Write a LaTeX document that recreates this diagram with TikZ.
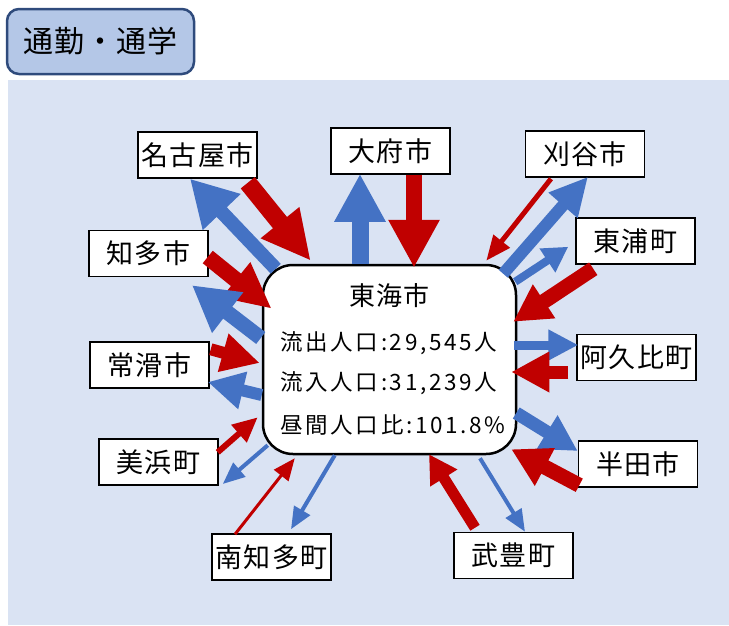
\documentclass[tikz,border=0pt]{standalone}
\usepackage{fontspec}
\setmainfont{Noto Sans CJK JP}
\newfontfamily\statfont[LetterSpace=12]{Noto Sans CJK JP}
\newfontfamily\cityfont[LetterSpace=4]{Noto Sans CJK JP}
\usetikzlibrary{arrows.meta}
\definecolor{flowblue}{HTML}{4472C4}
\definecolor{flowred}{HTML}{C00000}
\definecolor{panelbg}{HTML}{DAE3F3}
\definecolor{titlefill}{HTML}{B4C7E7}
\definecolor{titleline}{HTML}{2F4B7C}

\begin{document}
\begin{tikzpicture}[x=1pt, y=-1pt]
      \tikzset{
  city/.style={
    rectangle, draw, line width=1.5pt, fill=white,
    minimum width=119pt, minimum height=46pt, inner sep=0pt,
    font=\cityfont\fontsize{27}{27}\selectfont
  },
  hub/.style={
    rectangle, rounded corners=30pt, draw, line width=2.5pt, fill=white,
    minimum width=253pt, minimum height=189pt
  },
  hubname/.style={inner sep=0pt, font=\cityfont\fontsize{26}{26}\selectfont},
  stat/.style={anchor=west, inner sep=0pt, font=\statfont\fontsize{22.5}{22.5}\selectfont},
  titlebox/.style={
    rectangle, rounded corners=12pt, draw=titleline, line width=2.5pt,
    fill=titlefill, minimum width=187pt, minimum height=65pt,
    font=\cityfont\fontsize{30}{30}\selectfont
  },
  outflow/.style n args={3}{draw=flowblue, line width=#1, -{Triangle[length=#3, width=#2]}},
  inflow/.style n args={3}{draw=flowred, line width=#1, -{Triangle[length=#3, width=#2]}},
}

\useasboundingbox (0,0) rectangle (729,625);
\fill[panelbg] (8,80) rectangle (729,625);

%% ---- TITLE ----
\node[titlebox] (title) at (100.5,41.5) {通勤・通学};

%% ---- CENTER ----
\node[hub] (tokai) at (389.5,359.5) {};
\node[hubname] (tokainame) at (389.5,296) {東海市};
\node[stat] (outpop) at (280,343) {流出人口:29,545人};
\node[stat] (inpop)  at (280,383) {流入人口:31,239人};
\node[stat] (ratio)  at (280,425) {昼間人口比:101.8\%};

%% ---- CITIES ----
\node[city] (nagoya)      at (197.5,155) {名古屋市};
\node[city] (oobu)        at (390.5,151) {大府市};
\node[city] (kariya)      at (585,154)   {刈谷市};
\node[city] (higashiura)  at (635.5,241) {東浦町};
\node[city] (chita)       at (148.5,253.5) {知多市};
\node[city] (tokoname)    at (149.5,365) {常滑市};
\node[city] (agui)        at (636.5,357.5) {阿久比町};
\node[city] (mihama)      at (158.5,462) {美浜町};
\node[city] (handa)       at (638,464)   {半田市};
\node[city] (minamichita) at (271.5,557) {南知多町};
\node[city] (taketoyo)    at (513.5,555.5) {武豊町};

%% ---- FLOWS (blue: out of Tokai, red: into Tokai) ----
\draw[outflow={14pt}{49pt}{46pt}] ([shift={(14,5)}]tokai.north west) -- ([shift={(-7.5,0)}]nagoya.south);
\draw[inflow={18pt}{46pt}{49pt}]  ([shift={(-10,4)}]nagoya.south east) -- ([shift={(49,-3)}]tokai.north west);

\draw[outflow={17pt}{48pt}{48pt}] ([shift={(-29.5,0)}]tokai.north) -- ([shift={(-30.5,-1)}]oobu.south);
\draw[inflow={16pt}{48pt}{48pt}]  ([shift={(23.5,0)}]oobu.south) -- ([shift={(24.5,4)}]tokai.north);

\draw[inflow={5pt}{20pt}{25pt}]   ([shift={(-34,1)}]kariya.south) -- ([shift={(-31,-3)}]tokai.north east);
\draw[outflow={12pt}{36pt}{38pt}] ([shift={(-14,10)}]tokai.north east) -- ([shift={(3,-1)}]kariya.south);

\draw[outflow={8pt}{27pt}{25pt}]  ([shift={(-2,18)}]tokai.north east) -- ([shift={(-7,-18)}]higashiura.south west);
\draw[inflow={15pt}{38pt}{37pt}]  ([shift={(18,4)}]higashiura.south west) -- ([shift={(-4,58)}]tokai.north east);

\draw[outflow={9pt}{29pt}{30pt}]  ([shift={(-3,-14.5)}]tokai.east) -- ([shift={(2,-12.5)}]agui.west);
\draw[inflow={13pt}{38pt}{38pt}]  ([shift={(-8,14.5)}]agui.west) -- ([shift={(-6,12.5)}]tokai.east);

\draw[outflow={13pt}{37pt}{36pt}] ([shift={(-1,53.5)}]tokai.east) -- ([shift={(0,-13)}]handa.west);
\draw[inflow={15pt}{40pt}{38pt}]  ([shift={(1.5,-2.5)}]handa.south west) -- ([shift={(-6,-6)}]tokai.south east);

\draw[inflow={11pt}{30pt}{28pt}]  ([shift={(-38.5,-4)}]taketoyo.north) -- ([shift={(39.5,-1)}]tokai.south);
\draw[outflow={4pt}{18pt}{22pt}]  ([shift={(90.5,3)}]tokai.south) -- ([shift={(11.5,0)}]taketoyo.north);

\draw[inflow={3pt}{18pt}{22pt}]   ([shift={(-36.5,1)}]minamichita.north) -- ([shift={(33,3)}]tokai.south west);
\draw[outflow={4pt}{18pt}{22pt}]  ([shift={(73,0)}]tokai.south west) -- ([shift={(19.5,-4)}]minamichita.north);

\draw[inflow={6pt}{22pt}{25pt}]   ([shift={(-1,14)}]mihama.north east) -- ([shift={(-4,-38)}]tokai.south west);
\draw[outflow={4pt}{18pt}{22pt}]  ([shift={(6,-10)}]tokai.south west) -- ([shift={(4,22)}]mihama.east);

\draw[inflow={12pt}{37pt}{38pt}]  ([shift={(1,8)}]tokoname.north east) -- ([shift={(-2,3.5)}]tokai.west);
\draw[outflow={12pt}{36pt}{36pt}] ([shift={(0,35.5)}]tokai.west) -- ([shift={(-2,17)}]tokoname.east);

\draw[inflow={16pt}{42pt}{46pt}]  ([shift={(-1,3.5)}]chita.east) -- ([shift={(10,45)}]tokai.north west);
\draw[outflow={15pt}{48pt}{45pt}] ([shift={(-1,-21.5)}]tokai.west) -- ([shift={(43.5,8)}]chita.south);

    \end{tikzpicture}
\end{document}
